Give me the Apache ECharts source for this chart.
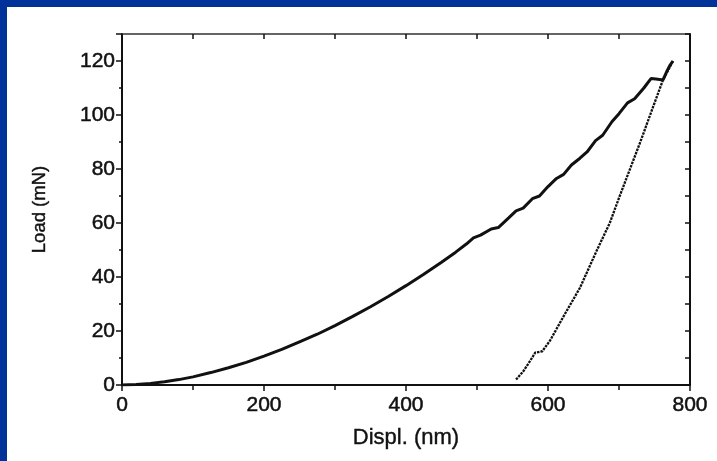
<!DOCTYPE html>
<html>
<head>
<meta charset="utf-8">
<script src="https://cdn.jsdelivr.net/npm/echarts@6/dist/echarts.min.js"></script>
<style>
  html, body { margin: 0; padding: 0; background: #ffffff; }
  #chart { width: 717px; height: 461px; }
</style>
</head>
<body>
<div id="chart"></div>
<script>
// Indentation loading segment: displacement (nm) and load (mN)
const loadDispl = [0, 20, 40, 60, 80, 100, 125, 150, 175, 200, 225, 250, 275, 300, 325, 350, 375, 400, 425, 450, 470, 485, 495, 505, 520, 530, 545, 555, 565, 578, 588, 600, 612, 622, 633, 645, 655, 667, 677, 690, 700, 712, 722, 735, 745, 752, 762, 768, 772, 776];
const loadForce = [0, 0.2, 0.6, 1.2, 2, 3, 4.6, 6.4, 8.4, 10.7, 13.2, 16, 18.8, 22, 25.4, 29, 32.8, 36.8, 41, 45.5, 49.2, 52.2, 54.5, 55.5, 57.8, 58.3, 62, 64.5, 65.5, 69, 70, 73.5, 76.5, 78, 81.5, 84, 86.3, 90.5, 92.5, 97.5, 100.5, 104.5, 106, 110, 113.5, 113.3, 113, 116.5, 118.5, 120];

// Unloading segment
const unloadDispl = [555, 565, 575, 582, 592, 603, 621, 645, 669, 687, 701, 730, 748, 762, 770, 776];
const unloadForce = [2, 5, 9, 12, 12.5, 16.5, 25, 36, 50, 60, 70, 90, 103, 113, 117, 120];

// Axis tick labels
const xTicks = [0, 200, 400, 600, 800];
const yTicks = [0, 20, 40, 60, 80, 100, 120];

const loadPairs = loadDispl.map((d, i) => [d, loadForce[i]]);
const unloadPairs = unloadDispl.map((d, i) => [d, unloadForce[i]]);

const FONT = 'Liberation Sans, Arial, sans-serif';
const INK = '#111111';

// slightly heavier glyphs than plain regular weight
const labelStyle = {
  fontFamily: FONT, fontSize: 21, color: INK,
  textBorderColor: INK, textBorderWidth: 0.5
};

const chart = echarts.init(document.getElementById('chart'), null, { renderer: 'canvas' });

chart.setOption({
  backgroundColor: '#ffffff',
  animation: false,
  grid: { left: 122, right: 27, top: 34, bottom: 76, containLabel: false },
  graphic: [
    { type: 'rect', shape: { x: 0, y: 0, width: 717, height: 7 }, style: { fill: '#003399' }, silent: true },
    { type: 'rect', shape: { x: 0, y: 0, width: 7, height: 461 }, style: { fill: '#003399' }, silent: true }
  ],
  xAxis: [
    {
      type: 'value', position: 'bottom', min: 0, max: 800, interval: 200,
      name: 'Displ. (nm)', nameLocation: 'middle', nameGap: 42,
      nameTextStyle: { fontFamily: FONT, fontSize: 22, color: INK, textBorderColor: INK, textBorderWidth: 0.4 },
      axisLine: { show: true, onZero: false, lineStyle: { color: INK, width: 2 } },
      axisTick: { show: true, inside: false, length: 6, lineStyle: { color: INK, width: 1.5 } },
      minorTick: { show: true, splitNumber: 2, length: 5, lineStyle: { color: INK, width: 1.5 } },
      axisLabel: Object.assign({ margin: 10, formatter: v => (xTicks.includes(v) ? String(v) : '') }, labelStyle),
      splitLine: { show: false }
    },
    {
      type: 'value', position: 'top', min: 0, max: 800, interval: 200,
      axisLine: { show: true, onZero: false, lineStyle: { color: '#333', width: 1.5 } },
      axisTick: { show: true, inside: true, length: 5, lineStyle: { color: INK, width: 1.5 } },
      minorTick: { show: true, splitNumber: 2, length: 5, lineStyle: { color: INK, width: 1.5 } },
      axisLabel: { show: false },
      splitLine: { show: false }
    }
  ],
  yAxis: [
    {
      type: 'value', position: 'left', min: 0, max: 130, interval: 20,
      name: 'Load (mN)', nameLocation: 'middle', nameGap: 73,
      nameTextStyle: { fontFamily: FONT, fontSize: 18.5, color: INK, textBorderColor: INK, textBorderWidth: 0.4 },
      axisLine: { show: true, onZero: false, lineStyle: { color: INK, width: 2 } },
      axisTick: { show: true, inside: false, length: 6, lineStyle: { color: INK, width: 1.5 } },
      minorTick: { show: true, splitNumber: 2, length: 3, lineStyle: { color: INK, width: 1.5 } },
      axisLabel: Object.assign({ margin: 7, formatter: v => (yTicks.includes(v) ? String(v) : '') }, labelStyle),
      splitLine: { show: false }
    },
    {
      type: 'value', position: 'right', min: 0, max: 130, interval: 20,
      axisLine: { show: true, onZero: false, lineStyle: { color: INK, width: 2 } },
      axisTick: { show: true, inside: true, length: 5, lineStyle: { color: INK, width: 1.5 } },
      minorTick: { show: true, splitNumber: 2, length: 5, lineStyle: { color: INK, width: 1.5 } },
      axisLabel: { show: false },
      splitLine: { show: false }
    }
  ],
  series: [
    {
      name: 'loading', type: 'line', xAxisIndex: 0, yAxisIndex: 0,
      data: loadPairs, showSymbol: false, smooth: false,
      lineStyle: { color: INK, width: 3 }
    },
    {
      name: 'unloading', type: 'line', xAxisIndex: 0, yAxisIndex: 0,
      data: unloadPairs, showSymbol: false, smooth: false,
      lineStyle: { color: INK, width: 2.3, type: [2.5, 1] }
    }
  ]
});
</script>
</body>
</html>
